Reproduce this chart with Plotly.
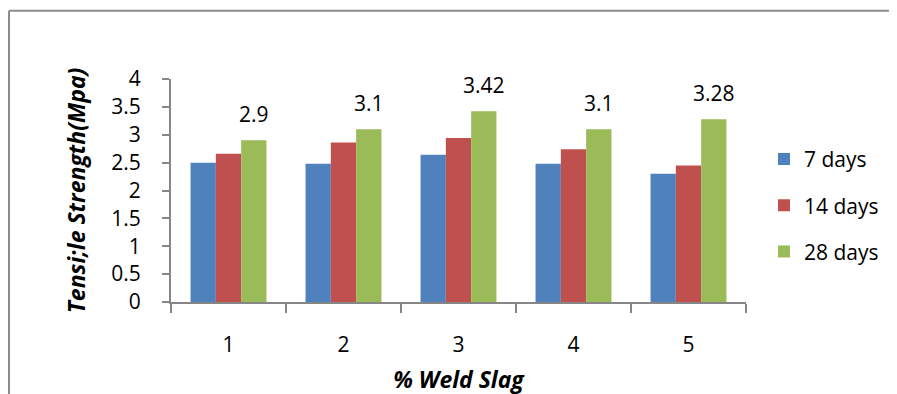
import plotly.graph_objects as go

categories = ["1", "2", "3", "4", "5"]
days7 = [2.50, 2.48, 2.64, 2.48, 2.30]
days14 = [2.66, 2.86, 2.94, 2.74, 2.45]
days28 = [2.90, 3.10, 3.42, 3.10, 3.28]
series_names = ["7 days", "14 days", "28 days"]
colors = ["#4F81BD", "#C0504D", "#9BBB59"]
y_ticks = [0, 0.5, 1, 1.5, 2, 2.5, 3, 3.5, 4]

FONT = "'Open Sans', Lato, sans-serif"
AX = "#868686"

fig = go.Figure()
for i, (name, vals) in enumerate(zip(series_names, [days7, days14, days28])):
    fig.add_trace(go.Bar(x=categories, y=vals, name=name, marker_color=colors[i],
                         marker_line_width=0, legendgroup=name))

for idx, v in enumerate(days28):
    fig.add_annotation(x=idx, y=v, xref="x", yref="y", text=f"{v:g}", showarrow=False,
                       xshift=25, yshift=26, yanchor="middle",
                       font=dict(size=21, color="black", family=FONT))

# page body adds an 8px offset; lay out in figure coords = target - OFF
OFF = 8
W, H = 897, 394
L, T = 171 - OFF, 79 - OFF
R = W - (746 - OFF)
B = H - (302.5 - OFF)
pw, ph = W - L - R, H - T - B
def px(x):
    return (x - OFF - L) / pw
def py(y):
    return (H - B - (y - OFF)) / ph
fig.add_shape(type="line", xref="paper", yref="paper", x0=px(9), x1=px(920),
              y0=py(10.5), y1=py(10.5), line=dict(color="#8c8c8c", width=2))
fig.add_shape(type="line", xref="paper", yref="paper", x0=px(9), x1=px(9),
              y0=py(10.5), y1=py(420), line=dict(color="#8c8c8c", width=2))

fig.update_layout(
    width=W, height=H,
    margin=dict(l=L, r=R, t=T, b=B),
    plot_bgcolor="white", paper_bgcolor="white",
    barmode="group", bargap=0.34, bargroupgap=0,
    font=dict(family=FONT, size=21, color="black"),
    showlegend=True,
    legend=dict(x=px(764), xanchor="left", y=py(139), yanchor="top",
                traceorder="grouped", tracegroupgap=16,
                font=dict(size=21, family=FONT), itemwidth=30),
    xaxis=dict(type="category", showline=True, linecolor=AX, linewidth=2,
               ticks="outside", ticklen=9, tickcolor=AX, tickwidth=2,
               tickson="boundaries", showgrid=False, ticklabelstandoff=23,
               tickfont=dict(size=21),
               title=dict(text="<b><i>% Weld Slag</i></b>", standoff=15,
                          font=dict(size=23))),
    yaxis=dict(range=[0, 4], tickvals=y_ticks, ticktext=[f"{t:g}" for t in y_ticks],
               showline=True, linecolor=AX, linewidth=2, ticks="outside",
               ticklen=7, tickcolor=AX, tickwidth=2, showgrid=False,
               zeroline=False, ticklabelstandoff=17, tickfont=dict(size=21),
               title=dict(text="<b><i>Tensi;le Strength(Mpa)</i></b>", standoff=19,
                          font=dict(size=23))),
)

fig.write_html("out.html", config={"displayModeBar": False})
